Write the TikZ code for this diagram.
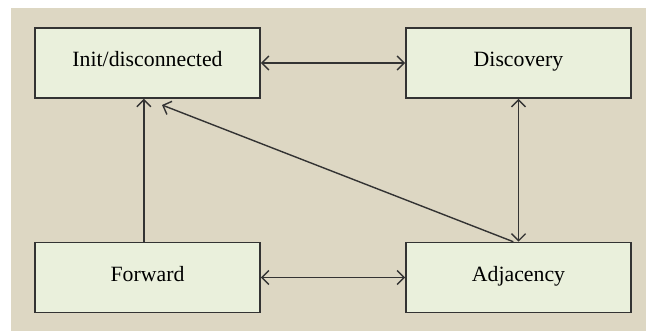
\documentclass[tikz,border=0pt]{standalone}
\usepackage{fontspec}
\setmainfont{Liberation Serif}
\usetikzlibrary{arrows.meta}

\definecolor{panelbg}{HTML}{DDD7C3}
\definecolor{statefill}{HTML}{EAF0DC}
\definecolor{edgegray}{HTML}{333333}

\tikzset{
  state/.style={draw=edgegray, line width=1.1pt, fill=statefill, rectangle,
    minimum width=5.625cm, minimum height=1.75cm, text height=1.5ex, text depth=0.3ex,
    font=\fontsize{15.5}{18}\selectfont},
  link/.style={draw=edgegray, line width=1pt, {Straight Barb[length=5pt,width=10pt]}-{Straight Barb[length=5pt,width=10pt]}},
  onelink/.style={draw=edgegray, line width=1pt, -{Straight Barb[length=5pt,width=10pt]}}
}

\begin{document}
\begin{tikzpicture}[x=0.025cm, y=-0.025cm]

% Page and panel
\useasboundingbox (0,0) rectangle (648,331);
\fill[panelbg] (11,8) rectangle (646,331); % Beige panel

% States
\node[state] (init) at (147.5,63) {Init/disconnected};
\node[state] (disc) at (518.5,63) {Discovery};
\node[state] (fwd) at (147.5,277.5) {Forward};
\node[state] (adj) at (518.5,277.5) {Adjacency};

% Free end of the diagonal
\coordinate (diagend) at (162,105);

% Transitions
\draw[link] (init.east) -- (disc.west); % Init <-> Discovery
\draw[link] (fwd.east) -- (adj.west); % Forward <-> Adjacency
\draw[link] (disc.south) -- (adj.north); % Discovery <-> Adjacency
\draw[onelink] ([xshift=-0.09cm]fwd.north) -- ([xshift=-0.09cm]init.south); % Forward -> Init
\draw[onelink] ([xshift=-0.13cm]adj.north) -- (diagend); % Adjacency -> Init

\end{tikzpicture}
\end{document}
